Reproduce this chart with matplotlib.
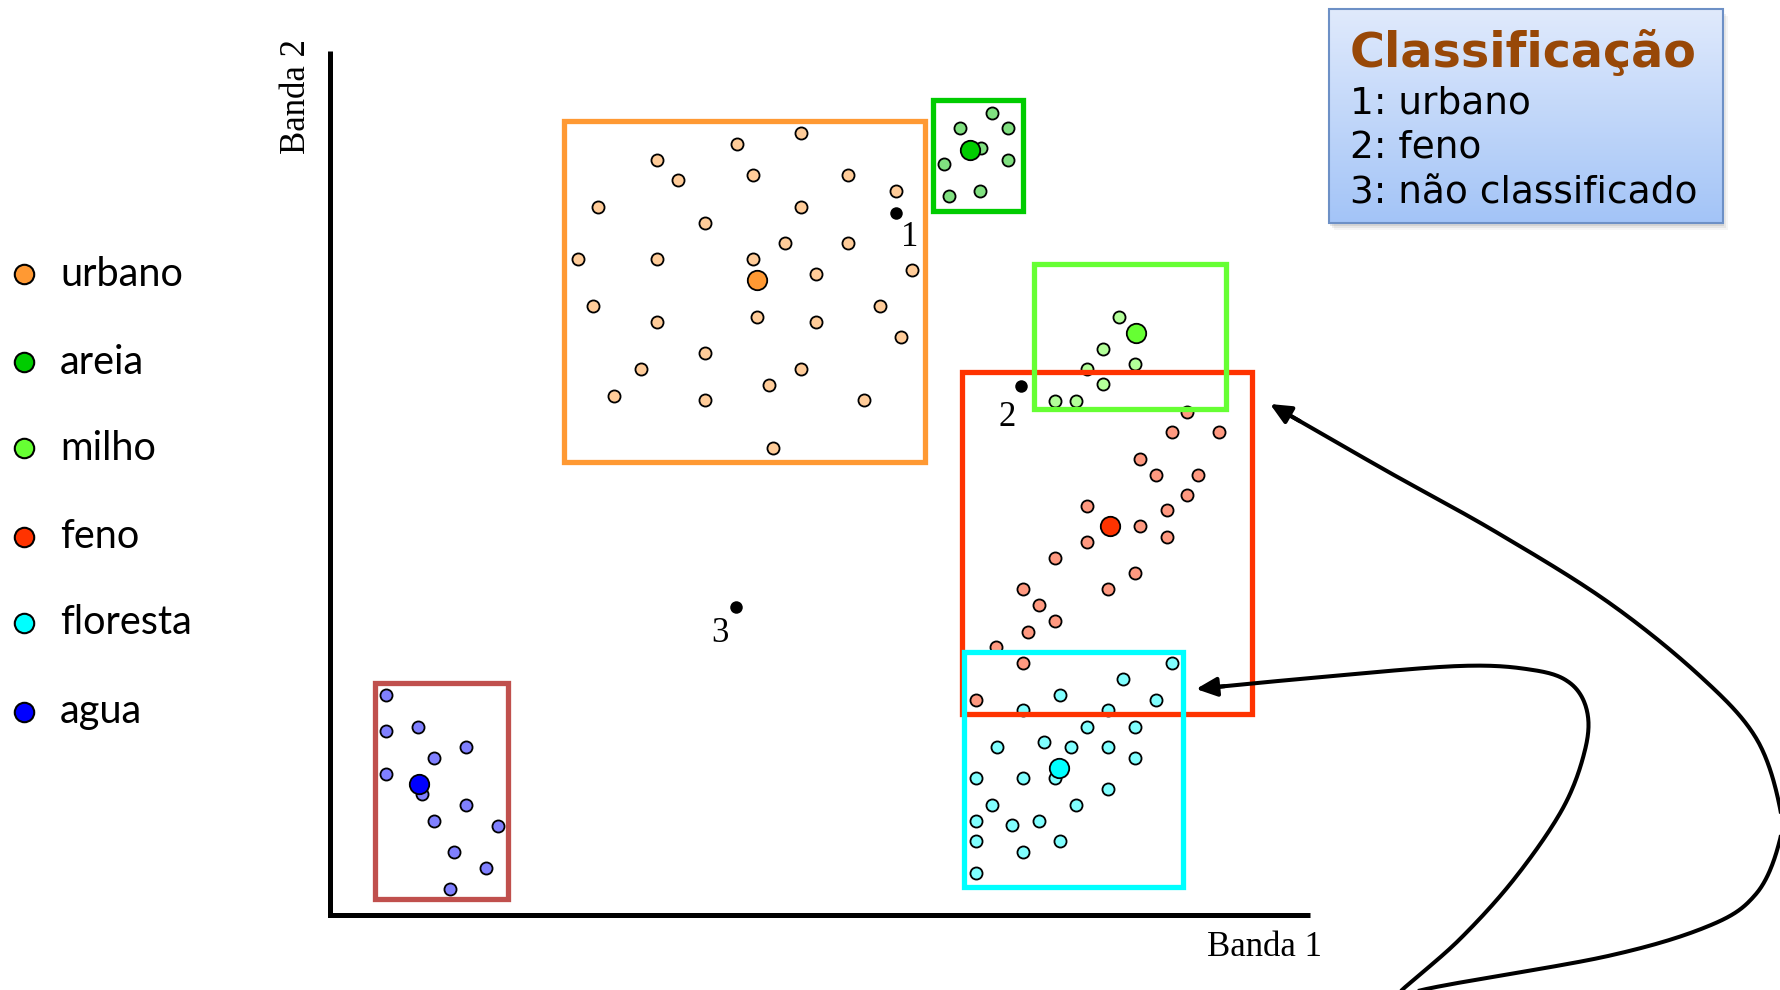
import numpy as np
import matplotlib
matplotlib.use('Agg')
import matplotlib.pyplot as plt
from matplotlib.patches import Rectangle

# canvas coordinates (pixels of the reference, y pointing down)
W, H = 1781, 990

# classes: name, marker colour, light point colour, box colour
classes = ['urbano', 'areia', 'milho', 'feno', 'floresta', 'agua']
main_colors = ['#ff9933', '#00cc00', '#66ff33', '#ff3300', '#00ffff', '#0000ff']
point_colors = ['#ffcc99', '#80e080', '#b3ff99', '#ff9980', '#80ffff', '#8080ff']
box_colors = ['#ff9933', '#00cc00', '#66ff33', '#ff3300', '#00ffff', '#c0504d']

# training samples (Banda 1, Banda 2) per class
urbano_x = [801, 737, 657, 678, 753, 848, 896, 598, 801, 705, 785, 848, 578, 657, 753, 912,
            816, 593, 880, 657, 757, 816, 901, 705, 641, 801, 769, 614, 705, 864, 773]
urbano_y = [133, 144, 160, 180, 175, 175, 191, 207, 207, 223, 243, 243, 259, 259, 259, 270,
            274, 306, 306, 322, 317, 322, 337, 353, 369, 369, 385, 396, 400, 400, 448]
areia_x = [992, 960, 1008, 981, 944, 1008, 949, 980]
areia_y = [113, 128, 128, 148, 164, 160, 196, 191]
milho_x = [1119, 1103, 1087, 1135, 1103, 1055, 1076]
milho_y = [317, 349, 369, 364, 384, 401, 401]
feno_x = [1187, 1172, 1219, 1140, 1156, 1198, 1187, 1087, 1167, 1140, 1167, 1087, 1055, 1135,
          1023, 1108, 1039, 1055, 1028, 996, 1023, 976]
feno_y = [412, 432, 432, 459, 475, 475, 495, 506, 510, 526, 537, 542, 558, 573,
          589, 589, 605, 621, 632, 647, 663, 700]
floresta_x = [1172, 1123, 1060, 1156, 1023, 1108, 1087, 1135, 997, 1044, 1071, 1108, 1135,
              976, 1023, 1055, 1108, 992, 1076, 976, 1012, 1039, 976, 1060, 1023, 976]
floresta_y = [663, 679, 695, 700, 710, 710, 727, 727, 747, 742, 747, 747, 758,
              778, 778, 778, 789, 805, 805, 821, 825, 821, 841, 841, 852, 873]
agua_x = [386, 386, 418, 466, 434, 386, 422, 466, 434, 498, 454, 486, 450]
agua_y = [695, 731, 727, 747, 758, 774, 794, 805, 821, 826, 852, 868, 889]
samples_x = [urbano_x, areia_x, milho_x, feno_x, floresta_x, agua_x]
samples_y = [urbano_y, areia_y, milho_y, feno_y, floresta_y, agua_y]

# class means
mean_x = [757, 970, 1136, 1110, 1059, 419]
mean_y = [280, 150, 333, 526, 768, 784]

# parallelepiped limits (x0, x1, y0, y1)
box_x0 = [564, 933, 1034, 962, 964, 375]
box_x1 = [925, 1023, 1226, 1252, 1183, 508]
box_y0 = [121, 100, 264, 372, 652, 683]
box_y1 = [462, 211, 409, 714, 887, 899]
box_order = [0, 1, 5, 3, 2, 4]

# unknown pixels
unk_x = [896, 1021, 736]
unk_y = [213, 386, 607]
unk_lab = ['1', '2', '3']
unk_lab_x = [910, 1007, 720]
unk_lab_y = [237, 418, 634]

# legend rows
legend_y = [274, 362, 448, 537, 623, 712]

# result box
result_title = 'Classificação'
result_lines = ['1: urbano', '2: feno', '3: não classificado']

# connector curves
curve_out = [(1270, 404), (1385, 470), (1496, 532), (1608, 602), (1700, 676), (1756, 738),
             (1780, 808), (1778, 847), (1756, 894), (1711, 925), (1608, 956), (1422, 990),
             (1400, 1005)]
curve_in = [(1196, 689), (1311, 678), (1459, 666), (1533, 670), (1570, 683), (1587, 711),
            (1585, 750), (1563, 808), (1515, 878), (1459, 940), (1402, 990), (1390, 1005)]


def catmull(pts, n=25):
    pts = np.asarray(pts, float)
    p = np.vstack([pts[0], pts, pts[-1]])
    out = []
    t = np.linspace(0, 1, n)[:, None]
    for i in range(len(pts) - 1):
        p0, p1, p2, p3 = p[i], p[i + 1], p[i + 2], p[i + 3]
        seg = 0.5 * (2 * p1 + (-p0 + p2) * t + (2 * p0 - 5 * p1 + 4 * p2 - p3) * t ** 2
                     + (-p0 + 3 * p1 - 3 * p2 + p3) * t ** 3)
        out.append(seg)
    return np.vstack(out)


fig = plt.figure(figsize=(W / 100.0, H / 100.0), dpi=100, facecolor='white')
ax = fig.add_axes([0, 0, 1, 1])
ax.axis('off')

# feature space axes
ax.plot([330, 330, 1310], [51, 915, 915], color='k', lw=3.6, solid_capstyle='butt',
        solid_joinstyle='miter', zorder=2)
ax.text(297, 97, 'Banda 2', family='Liberation Serif', fontsize=25, rotation=90,
        ha='center', va='center')
ax.text(1265, 948, 'Banda 1', family='Liberation Serif', fontsize=25, ha='center', va='center')

# samples
for i in range(len(classes)):
    ax.plot(samples_x[i], samples_y[i], 'o', ms=8.7, mfc=point_colors[i], mec='k', mew=1.3,
            ls='none', zorder=3)
for i in range(len(classes)):
    ax.plot(mean_x[i], mean_y[i], 'o', ms=14, mfc=main_colors[i], mec='k', mew=1.3, zorder=4)

# boxes
for k, i in enumerate(box_order):
    ax.add_patch(Rectangle((box_x0[i], box_y0[i]), box_x1[i] - box_x0[i], box_y1[i] - box_y0[i],
                           fill=False, ec=box_colors[i], lw=3.8, joinstyle='miter', zorder=5 + k))

# unknown pixels
ax.plot(unk_x, unk_y, 'o', ms=9, color='k', mew=0, zorder=12)
for i in range(len(unk_lab)):
    ax.text(unk_lab_x[i], unk_lab_y[i], unk_lab[i], family='Liberation Serif', fontsize=25,
            ha='center', va='center', zorder=12)

# legend
for i in range(len(classes)):
    ax.plot(24, legend_y[i], 'o', ms=14, mfc=main_colors[i], mec='k', mew=1.5)
    ax.text(60, legend_y[i], classes[i], family='Lato', fontsize=28.5, ha='left', va='center')

# result box with gradient and shadow
bx0, bx1, by0, by1 = 1329, 1723, 9, 223
for s, a in zip([7, 5, 3], [0.08, 0.12, 0.18]):
    ax.add_patch(Rectangle((bx0 + s - 2, by0 + s), bx1 - bx0, by1 - by0, fc='#808080', ec='none',
                           alpha=a, zorder=13))
top = np.array([224, 234, 252]) / 255.0
bot = np.array([163, 196, 247]) / 255.0
g = np.linspace(0, 1, 200)[:, None, None]
grad = top * (1 - g) + bot * g
ax.imshow(np.repeat(grad, 2, axis=1), extent=(bx0, bx1, by1, by0), origin='upper',
          aspect='auto', zorder=14)
ax.add_patch(Rectangle((bx0, by0), bx1 - bx0, by1 - by0, fill=False, ec='#6d90c6', lw=1.5,
                       zorder=15))
ax.text(1350, 67, result_title, family='DejaVu Sans', fontweight='bold', fontsize=34.3,
        color='#984807', ha='left', va='baseline', zorder=16)
for i, line in enumerate(result_lines):
    ax.text(1350, 113 + 45 * i, line, family='DejaVu Sans', fontsize=27, ha='left',
            va='baseline', zorder=16)

# connectors
for pts in [curve_out, curve_in]:
    c = catmull(pts)
    ax.plot(c[4:, 0], c[4:, 1], color='k', lw=2.9, zorder=17, solid_capstyle='butt')
    ax.annotate('', xy=pts[0], xytext=(c[8, 0], c[8, 1]),
                arrowprops=dict(arrowstyle='-|>,head_length=0.7,head_width=0.32', color='k',
                                lw=2.9, mutation_scale=18, shrinkA=0, shrinkB=0), zorder=17)

ax.set_xlim(0, W)
ax.set_ylim(H, 0)
plt.savefig('out.png', dpi=100, facecolor='white')
